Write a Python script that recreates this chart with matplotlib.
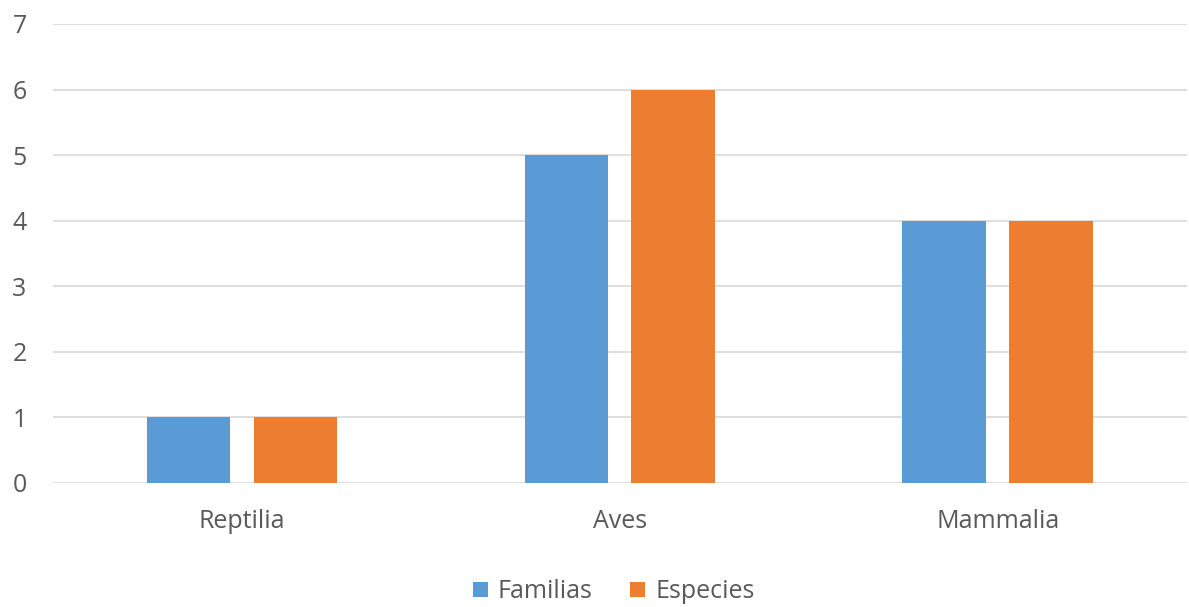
import matplotlib.pyplot as plt
import numpy as np

clases = ["Reptilia", "Aves", "Mammalia"]
familias = [1, 5, 4]
especies = [1, 6, 4]

plt.rcParams['font.family'] = ['Open Sans', 'DejaVu Sans']

fig = plt.figure(figsize=(11.89, 6.07), dpi=100)
ax = fig.add_axes([0.0446, 0.2043, 0.9536, 0.7562])

x = np.arange(len(clases))
ancho = 0.222
ax.bar(x - 0.1415, familias, ancho, color='#5B9BD5', label='Familias', zorder=3)
ax.bar(x + 0.1415, especies, ancho, color='#ED7D31', label='Especies', zorder=3)

ax.set_xlim(-0.5, 2.5)
ax.set_ylim(0, 7)
ax.set_yticks(range(8))
ax.set_xticks(x)
ax.set_xticklabels(clases)
ax.yaxis.grid(True, color='#D9D9D9', linewidth=1.2, zorder=0)
for s in ax.spines.values():
    s.set_visible(False)
ax.tick_params(axis='both', length=0, labelsize=18, labelcolor='#595959')
ax.tick_params(axis='y', pad=19)
ax.tick_params(axis='x', pad=19)

fig.legend(loc='center', bbox_to_anchor=(0.516, 0.025), ncol=2, frameon=False,
           fontsize=18, labelcolor='#595959', handlelength=0.6, handleheight=0.6,
           handletextpad=0.4, columnspacing=1.5)

fig.savefig('out.png', dpi=100)
